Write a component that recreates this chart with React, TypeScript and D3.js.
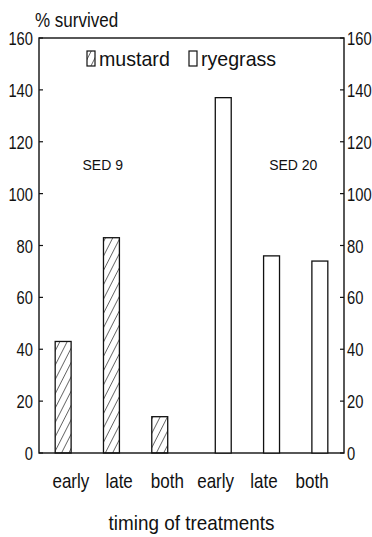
import React from "react";
import * as d3 from "d3";

// values
const groups = ["mustard", "ryegrass"];
const timings = ["early", "late", "both"];
const mustardValues = [43, 83, 14];
const ryegrassValues = [137, 76, 74];
const yTicks = [0, 20, 40, 60, 80, 100, 120, 140, 160];
const xLabels = ["early", "late", "both", "early", "late", "both"];
const sedLabels = ["SED 9", "SED 20"];

const W = 372;
const H = 537;
const margin = { top: 38, right: 28, bottom: 84, left: 39 };
const font = "'Liberation Sans', Arial, sans-serif";

// narrow text: the original uses a condensed plotter font
function NText(props: {
  x: number;
  y: number;
  size: number;
  sx: number;
  anchor?: string;
  children: React.ReactNode;
}) {
  return (
    <text
      transform={`translate(${props.x},${props.y}) scale(${props.sx},1)`}
      textAnchor={props.anchor ?? "start"}
      fontSize={props.size}
      fill="#111"
    >
      {props.children}
    </text>
  );
}

export default function App() {
  const x0 = margin.left;
  const x1 = W - margin.right;
  const y0 = H - margin.bottom;
  const y1 = margin.top;

  const y = d3.scaleLinear().domain([0, 160]).range([y0, y1]);
  const xGroup = d3.scaleBand().domain(groups).range([x0, x1]).paddingInner(0.095).paddingOuter(0);
  const xTiming = d3
    .scaleBand()
    .domain(timings)
    .range([0, xGroup.bandwidth()])
    .paddingInner(0.67)
    .paddingOuter(0.335);
  // category labels sit on an even spacing across the whole axis
  const xLab = d3
    .scaleBand<number>()
    .domain(d3.range(xLabels.length))
    .range([x0, x1])
    .paddingOuter(0.16)
    .paddingInner(0);

  const series = [
    { name: "mustard", values: mustardValues, hatch: true },
    { name: "ryegrass", values: ryegrassValues, hatch: false },
  ];

  return (
    <svg
      width={W}
      height={H}
      style={{ position: "absolute", left: 0, top: 0, background: "#fff" }}
      fontFamily={font}
    >
      <defs>
        <pattern id="hatch" patternUnits="userSpaceOnUse" width="6.5" height="6.5" patternTransform="rotate(27)">
          <line x1="0" y1="0" x2="0" y2="6.5" stroke="#111" strokeWidth="1.2" />
        </pattern>
      </defs>

      {/* frame */}
      <rect x={x0} y={y1} width={x1 - x0} height={y0 - y1} fill="none" stroke="#111" strokeWidth={1.4} />

      {/* ticks + labels both sides */}
      {yTicks.map((t) => (
        <g key={t}>
          <line x1={x0} x2={x0 + 4} y1={y(t)} y2={y(t)} stroke="#111" strokeWidth={1.2} />
          <line x1={x1 - 4} x2={x1} y1={y(t)} y2={y(t)} stroke="#111" strokeWidth={1.2} />
          <NText x={x0 - 6} y={y(t) + 7} size={18} sx={0.82} anchor="end">
            {t}
          </NText>
          <NText x={x1 + 3} y={y(t) + 7} size={18} sx={0.82}>
            {t}
          </NText>
        </g>
      ))}

      {/* bars */}
      {series.map((s) =>
        s.values.map((v, i) => {
          const bx = (xGroup(s.name) ?? 0) + (xTiming(timings[i]) ?? 0);
          return (
            <rect
              key={s.name + i}
              x={bx}
              y={y(v)}
              width={xTiming.bandwidth()}
              height={y(0) - y(v)}
              fill={s.hatch ? "url(#hatch)" : "#fff"}
              stroke="#111"
              strokeWidth={1.3}
            />
          );
        })
      )}

      {/* SED annotations */}
      {sedLabels.map((lab, i) => (
        <text
          key={lab}
          x={(xGroup(groups[i]) ?? 0) + xGroup.bandwidth() * (i === 0 ? 0.44 : 0.65)}
          y={y(110) + 2}
          textAnchor="middle"
          fontSize={14}
          fill="#111"
        >
          {lab}
        </text>
      ))}

      {/* legend */}
      <rect x={87} y={51} width={8} height={15} fill="url(#hatch)" stroke="#111" strokeWidth={1.2} />
      <NText x={99} y={66} size={20} sx={0.98}>
        mustard
      </NText>
      <rect x={189} y={51} width={8} height={15} fill="#fff" stroke="#111" strokeWidth={1.2} />
      <NText x={201} y={66} size={20} sx={0.98}>
        ryegrass
      </NText>

      {/* axis titles */}
      <NText x={35} y={27} size={20} sx={0.85}>
        % survived
      </NText>
      {xLabels.map((lab, i) => (
        <NText key={i} x={(xLab(i) ?? 0) + xLab.bandwidth() / 2} y={488} size={20} sx={0.85} anchor="middle">
          {lab}
        </NText>
      ))}
      <NText x={(x0 + x1) / 2} y={530} size={21} sx={0.9} anchor="middle">
        timing of treatments
      </NText>
    </svg>
  );
}
